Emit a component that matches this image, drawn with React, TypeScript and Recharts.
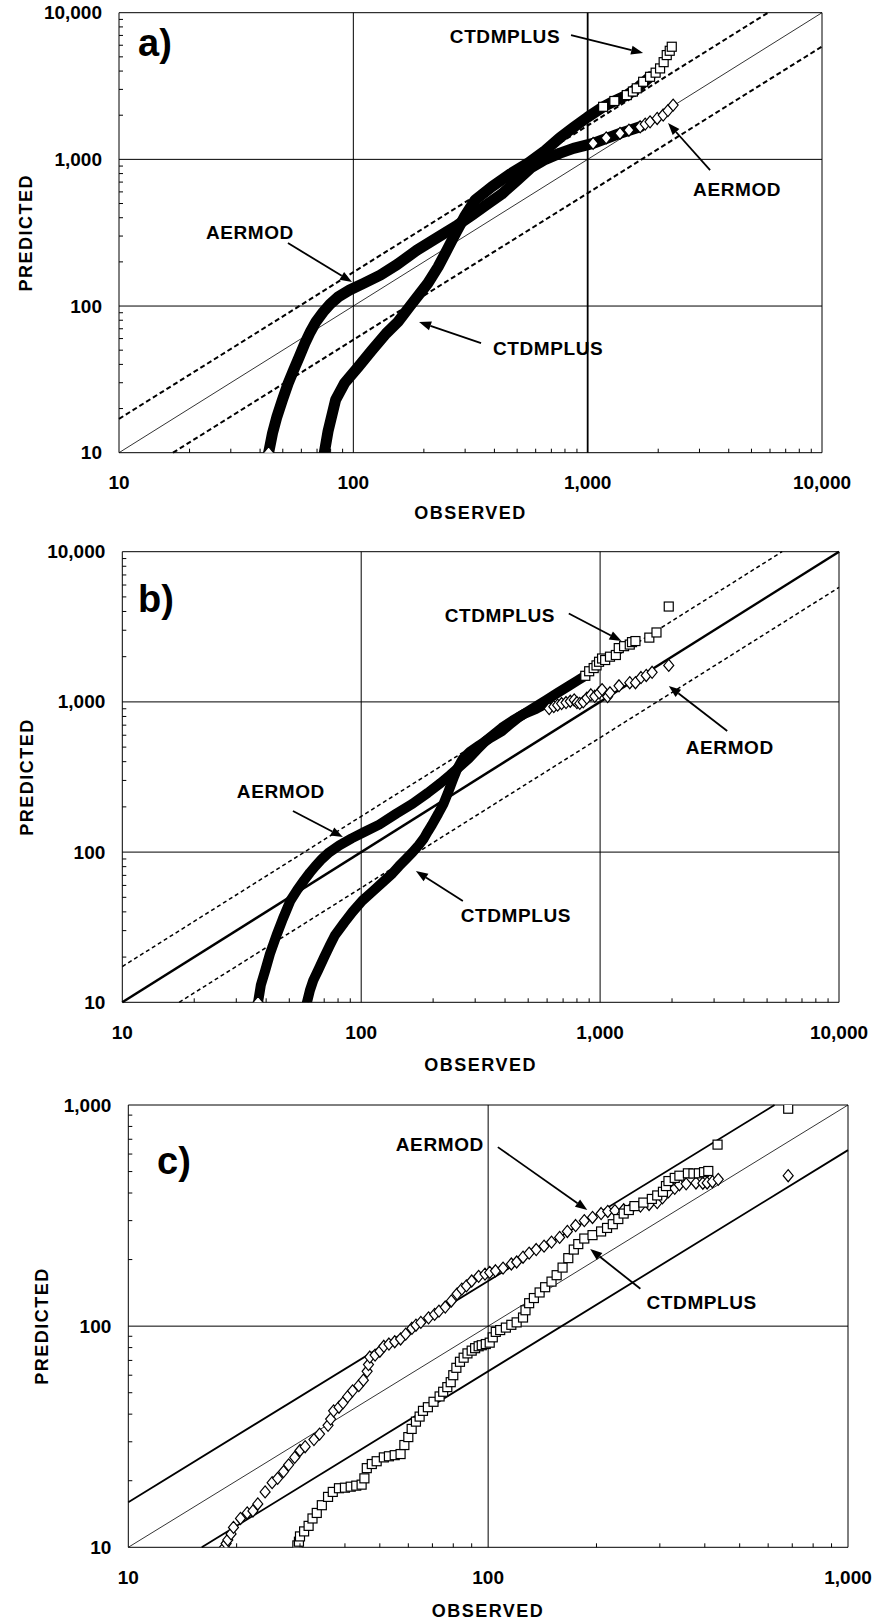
import React from 'react';
import { ScatterChart, Scatter, XAxis, YAxis, ReferenceLine, ReferenceDot, Customized } from 'recharts';

const FONT = '"Liberation Sans", Arial, Helvetica, sans-serif';

// ---------- tick values ----------
const TICKS_4DEC = [10, 20, 30, 40, 50, 60, 70, 80, 90, 100, 200, 300, 400, 500, 600, 700, 800, 900, 1000, 2000, 3000, 4000, 5000, 6000, 7000, 8000, 9000, 10000];
const TICKS_2DEC = [10, 20, 30, 40, 50, 60, 70, 80, 90, 100, 200, 300, 400, 500, 600, 700, 800, 900, 1000];
const MAJOR_TICKS = [10, 100, 1000, 10000];

// ---------- panel a ----------
const aAermodBand = [[43.5, 10], [45.2, 13.6], [47.2, 17.6], [49.8, 22.9], [52.7, 29.7], [55.6, 36.6], [58.8, 45.1], [62.1, 55.7], [65.6, 66.8], [69.3, 78.2], [74.5, 91.4], [79.6, 103.2], [86.4, 115.7], [96.4, 128.5], [110.6, 142.8], [130.3, 162.6], [153.8, 192], [186.5, 240], [225.8, 290], [273.8, 350], [322.8, 420], [370, 490], [430, 580], [500, 720], [575, 880], [660, 1000], [762, 1102], [869, 1189], [1055, 1285], [1374, 1504], [1675, 1668]];
const aAermodTail = [[43.5, 10], [1055, 1285], [1200, 1400], [1374, 1504], [1500, 1580], [1675, 1668], [1760, 1740], [1846, 1803], [1980, 1900], [2100, 2005], [2200, 2150], [2316, 2345]];
const aCtdBand = [[75.2, 10], [78, 14], [84, 22.9], [92, 30], [105, 38.5], [120, 50], [138, 65], [155, 78], [176, 101.6], [208, 143], [230, 185], [251, 241], [275, 320], [298, 406], [331, 528], [390, 650], [470, 800], [560, 950], [660, 1150], [762, 1408], [870, 1650], [1000, 1940], [1164, 2282], [1300, 2500], [1469, 2743], [1620, 3050], [1846, 3655]];
const aCtdTail = [[1164, 2282], [1300, 2500], [1469, 2743], [1560, 2900], [1620, 3050], [1725, 3381], [1846, 3655], [1950, 3900], [2037, 4170], [2110, 4600], [2175, 5140], [2240, 5500], [2285, 5860]];

// ---------- panel b ----------
const bAermodBand = [[37, 10], [38, 13], [39.7, 16.4], [41.5, 21], [44.2, 27.9], [47, 36], [50.5, 47.4], [54, 56], [57.8, 65.2], [61, 73], [64.3, 80.7], [68.5, 90], [73.5, 99.7], [81, 111], [91.2, 123.4], [104, 137], [119, 152.4], [140, 180], [164, 209.7], [190, 248], [215, 288.5], [235, 325], [251, 356.5], [281, 418], [305, 480], [330, 545], [360, 610], [388, 673], [430, 750], [481, 833], [540, 900], [596, 977]];
const bAermodTail = [[37, 10], [612, 903], [640, 930], [664, 951], [690, 975], [720, 990], [750, 1010], [779, 1030], [800, 990], [822, 977], [850, 1000], [880, 1060], [915, 1115], [950, 1090], [990, 1150], [1019, 1208], [1075, 1086], [1100, 1150], [1200, 1280], [1331, 1342], [1406, 1342], [1483, 1453], [1560, 1500], [1651, 1574], [1938, 1750]];
const bCtdBand = [[59.3, 10], [61, 12], [63, 14], [66.1, 16.4], [70, 20], [74, 24], [77.6, 27.9], [85, 34], [92, 40], [101, 47.4], [112, 55], [126, 65.2], [135, 72], [144, 80.7], [154, 90], [164, 99.7], [174, 111], [183, 123.4], [190, 137], [198, 152.4], [210, 180], [221, 209.7], [230, 245], [239, 288.5], [245, 320], [252, 356.5], [266, 418], [285, 465], [313, 516], [350, 580], [388, 639], [420, 710], [456, 790], [520, 900], [596, 1030], [660, 1140], [739, 1274], [800, 1380], [867, 1492]];
const bCtdTail = [[867, 1492], [900, 1600], [940, 1680], [966, 1750], [990, 1850], [1019, 1945], [1050, 1900], [1100, 2000], [1164, 2052], [1197, 2281], [1260, 2350], [1331, 2408], [1360, 2500], [1406, 2541], [1607, 2679], [1722, 2899], [1938, 4315]];

// ---------- panel c ----------
const cAermod = [[18.5, 10], [18.7, 10.4], [18.9, 10.8], [19.3, 11.5], [19.6, 12.3], [20.5, 13.5], [21.4, 14.3], [22.2, 14.6], [22.9, 15.7], [24, 17.8], [25.1, 19.6], [26, 20.5], [27, 22], [27.9, 23.6], [29, 25.5], [30, 27.4], [31, 28.5], [32.8, 30.7], [34, 32.5], [35.9, 35.6], [36.5, 38], [37.2, 41.4], [38.5, 43], [39.5, 45], [40.7, 48], [42, 51], [43.7, 53.8], [45, 57], [46.1, 62.5], [46.5, 67], [46.9, 72.5], [48.5, 74], [50, 77], [51.3, 81.1], [53, 83], [55, 85], [57.1, 87.5], [59, 92], [61.4, 97.8], [63, 101], [65, 104], [68.3, 109], [71, 113], [73, 117], [76, 122], [79, 130], [82, 140], [84.5, 147], [87, 152], [90, 160], [94.1, 168], [98, 172], [101, 175], [104.8, 178], [110, 183], [116, 191], [120, 195], [125, 205], [130, 214], [136, 222], [143, 230], [150, 240], [158, 252], [166, 268], [175, 285], [185, 300], [195, 310], [206, 323], [215, 330], [225, 333], [238, 336], [250, 342], [265, 349], [280, 355], [295, 362], [305, 380], [317, 405], [330, 420], [340, 436], [355, 440], [378, 444], [395, 443], [406, 444], [420, 450], [436, 461], [682, 479]];
const cCtd = [[29.5, 10.2], [29.8, 10.6], [30, 11.2], [30.8, 11.8], [31.7, 12.5], [32.5, 13.5], [33.4, 14.3], [34.5, 15.5], [35.9, 16.9], [37, 17.8], [38.5, 18.5], [40, 18.6], [41.5, 18.8], [43, 19], [44.5, 19.2], [45.3, 20.5], [46, 22.8], [47.5, 23.8], [49, 24.5], [51.3, 25.5], [53, 25.8], [55, 26.1], [57.1, 26.4], [58.5, 29], [60, 31.5], [61.3, 34.3], [63, 37], [64.5, 39], [65.9, 41.4], [68, 43], [70.5, 45.5], [73.3, 48.1], [75, 50.5], [77, 53], [78.7, 55.8], [80, 60], [81.6, 64.8], [83.5, 69], [85.5, 72], [87.6, 75.3], [90, 77.5], [92, 79.5], [94.1, 81.1], [96, 82], [98.5, 83], [101, 84.2], [103, 89], [105, 94.2], [108, 96], [112, 98.5], [116, 101.4], [120, 104], [125, 109.4], [127, 118], [130, 127], [134, 134], [139, 142], [144, 150], [150, 159], [155, 170], [161, 184], [167, 203], [173, 222], [178, 235], [185, 249], [195, 258], [206, 268], [214, 278], [222, 289], [230, 305], [238, 323], [246, 335], [255, 349], [270, 362], [285, 376], [295, 390], [306, 405], [312, 430], [317, 453], [330, 468], [340, 479], [359, 491], [372, 490], [385, 491], [398, 497], [409, 503], [434, 662], [682, 962]];

// ---------- annotations (data coordinates) ----------
const aTexts = [{ t: 'CTDMPLUS', x: 444, y: 6926 }, { t: 'AERMOD', x: 4342, y: 627.6 }, { t: 'AERMOD', x: 36.2, y: 319.5 }, { t: 'CTDMPLUS', x: 677.6, y: 51.7 }];
const aArrows = [[[849, 7034], [1724, 5303]], [[3330, 845], [2203, 1768]], [[52.6, 268.9], [98.7, 145.7]], [[350.8, 55.9], [190.8, 77.8]]];
const bTexts = [{ t: 'CTDMPLUS', x: 380.4, y: 3732 }, { t: 'AERMOD', x: 3489, y: 493.3 }, { t: 'AERMOD', x: 46.1, y: 251.3 }, { t: 'CTDMPLUS', x: 444, y: 38.1 }];
const bArrows = [[[739.6, 3878], [1229, 2544]], [[3405, 640], [1939, 1276]], [[51.8, 187.7], [83.8, 126]], [[266.4, 47.3], [169.4, 74.8]]];
const cTexts = [{ t: 'AERMOD', x: 73.4, y: 665.8 }, { t: 'CTDMPLUS', x: 392.2, y: 128.5 }];
const cArrows = [[[106.4, 645], [188.6, 334.9]], [[264.9, 147.5], [192.1, 223.1]]];

const toPts = (arr: number[][]) => arr.map(([x, y]) => ({ x, y }));
const fmt = (v: number) => v.toLocaleString('en-US');

const XTick = (p: any) => {
  const { x, y, payload, labelDy } = p;
  const v = payload.value;
  const major = MAJOR_TICKS.includes(v);
  return (
    <g>
      {!major && <line x1={x} x2={x} y1={y} y2={y - 4} stroke="#000" strokeWidth={1} />}
      {major && (
        <text x={x} y={y + labelDy} textAnchor="middle" dominantBaseline="central" fontFamily={FONT} fontWeight="bold" fontSize={19} fill="#000">
          {fmt(v)}
        </text>
      )}
    </g>
  );
};

const YTick = (p: any) => {
  const { x, y, payload, labelDx } = p;
  const v = payload.value;
  const major = MAJOR_TICKS.includes(v);
  return (
    <g>
      {!major && <line x1={x} x2={x + 4} y1={y} y2={y} stroke="#000" strokeWidth={1} />}
      {major && (
        <text x={x - labelDx} y={y} textAnchor="end" dominantBaseline="central" fontFamily={FONT} fontWeight="bold" fontSize={19} fill="#000">
          {fmt(v)}
        </text>
      )}
    </g>
  );
};

const SquareMk = (p: any) => (
  <rect x={p.cx - 4.5} y={p.cy - 4.5} width={9} height={9} fill="#fff" stroke="#000" strokeWidth={1.2} />
);
const DiamondMk = (p: any) => (
  <polygon points={`${p.cx},${p.cy - 6} ${p.cx + 5},${p.cy} ${p.cx},${p.cy + 6} ${p.cx - 5},${p.cy}`} fill="#fff" stroke="#000" strokeWidth={1.2} />
);
const NoMk = () => <g />;

const ArrowShape = (p: any) => {
  const { x1, y1, x2, y2 } = p;
  const ang = Math.atan2(y2 - y1, x2 - x1);
  const L = 12;
  const W = 4.5;
  const bx = x2 - L * Math.cos(ang);
  const by = y2 - L * Math.sin(ang);
  const p1x = bx + W * Math.sin(ang);
  const p1y = by - W * Math.cos(ang);
  const p2x = bx - W * Math.sin(ang);
  const p2y = by + W * Math.cos(ang);
  return (
    <g>
      <line x1={x1} y1={y1} x2={bx} y2={by} stroke="#000" strokeWidth={1.8} />
      <polygon points={`${x2},${y2} ${p1x},${p1y} ${p2x},${p2y}`} fill="#000" />
    </g>
  );
};

const textShape = (t: string) => (p: any) => (
  <text x={p.cx} y={p.cy} textAnchor="middle" dominantBaseline="central" fontFamily={FONT} fontWeight="bold" fontSize={19} letterSpacing={0.6} fill="#000">
    {t}
  </text>
);

const Overlay = (p: any) => {
  const { letter, lx, ly, xt, yt } = p;
  return (
    <g>
      <text x={lx} y={ly} fontFamily={FONT} fontWeight="bold" fontSize={38} fill="#000">{letter}</text>
      <text x={xt[0]} y={xt[1]} textAnchor="middle" dominantBaseline="central" fontFamily={FONT} fontWeight="bold" fontSize={18} letterSpacing={1.5} fill="#000">OBSERVED</text>
      <text x={yt[0]} y={yt[1]} textAnchor="middle" dominantBaseline="central" fontFamily={FONT} fontWeight="bold" fontSize={18} letterSpacing={1.5} fill="#000" transform={`rotate(-90 ${yt[0]} ${yt[1]})`}>PREDICTED</text>
    </g>
  );
};

type PanelProps = {
  top: number;
  height: number;
  margin: { top: number; right: number; bottom: number; left: number };
  yW: number;
  xH: number;
  max: number;
  ticks: number[];
  factor: number;
  diag: any;
  fac: any;
  grid: { x: number; w: number }[];
  gridY: number[];
  series: { data: number[][]; kind: 'band' | 'sq' | 'di'; width?: number }[];
  texts: { t: string; x: number; y: number }[];
  arrows: number[][][];
  letter: string;
  lx: number;
  ly: number;
  xt: number[];
  yt: number[];
};

function Panel(props: PanelProps) {
  const { top, height, margin, yW, xH, max, ticks, factor, diag, fac, grid, gridY, series, texts, arrows, letter, lx, ly, xt, yt } = props;
  const lo = 10;
  return (
    <div style={{ position: 'absolute', left: 0, top, width: 874, height }}>
      <ScatterChart width={874} height={height} margin={margin}>
        <XAxis type="number" dataKey="x" scale="log" domain={[lo, max]} allowDataOverflow ticks={ticks} interval={0} tickSize={0} tickMargin={0} tickLine={false} axisLine={{ stroke: '#000', strokeWidth: 1 }} height={xH} tick={<XTick labelDy={30} />} />
        <YAxis type="number" dataKey="y" scale="log" domain={[lo, max]} allowDataOverflow ticks={ticks} interval={0} tickSize={0} tickMargin={0} tickLine={false} axisLine={{ stroke: '#000', strokeWidth: 1 }} width={yW} tick={<YTick labelDx={17} />} />
        {grid.map((g, i) => (
          <ReferenceLine key={'gx' + i} x={g.x} stroke="#000" strokeWidth={g.w} />
        ))}
        {gridY.map((g, i) => (
          <ReferenceLine key={'gy' + i} y={g} stroke="#000" strokeWidth={1} />
        ))}
        <ReferenceLine x={max} stroke="#000" strokeWidth={1} />
        <ReferenceLine y={max} stroke="#000" strokeWidth={1} />
        <ReferenceLine segment={[{ x: lo, y: lo }, { x: max, y: max }]} {...diag} />
        <ReferenceLine segment={[{ x: lo, y: lo * factor }, { x: max / factor, y: max }]} {...fac} />
        <ReferenceLine segment={[{ x: lo * factor, y: lo }, { x: max, y: max / factor }]} {...fac} />
        {series.map((s, i) => (
          <Scatter
            key={'s' + i}
            data={toPts(s.data)}
            isAnimationActive={false}
            line={s.kind === 'band' ? { stroke: '#000', strokeWidth: s.width || 10, strokeLinejoin: 'round', strokeLinecap: 'round' } : false}
            shape={s.kind === 'band' ? NoMk : s.kind === 'sq' ? SquareMk : DiamondMk}
          />
        ))}
        {arrows.map((a, i) => (
          <ReferenceLine key={'ar' + i} segment={[{ x: a[0][0], y: a[0][1] }, { x: a[1][0], y: a[1][1] }]} shape={ArrowShape} />
        ))}
        {texts.map((t, i) => (
          <ReferenceDot key={'tx' + i} x={t.x} y={t.y} r={0} shape={textShape(t.t)} />
        ))}
        <Customized component={<Overlay letter={letter} lx={lx} ly={ly} xt={xt} yt={yt} />} />
      </ScatterChart>
    </div>
  );
}

export default function App() {
  return (
    <div style={{ position: 'absolute', left: 0, top: 0, width: 874, height: 1622, background: '#fff' }}>
      <Panel
        top={0}
        height={540}
        margin={{ top: 12.7, right: 52, bottom: 7.3, left: 0 }}
        yW={119}
        xH={80}
        max={10000}
        ticks={TICKS_4DEC}
        factor={1.7}
        diag={{ stroke: '#000', strokeWidth: 0.8 }}
        fac={{ stroke: '#000', strokeWidth: 2, strokeDasharray: '5 3' }}
        grid={[{ x: 100, w: 1 }, { x: 1000, w: 1.8 }]}
        gridY={[100, 1000]}
        series={[
          { data: aAermodBand, kind: 'band', width: 11 },
          { data: aCtdBand, kind: 'band', width: 11 },
          { data: aAermodTail, kind: 'di' },
          { data: aCtdTail, kind: 'sq' },
        ]}
        texts={aTexts}
        arrows={aArrows}
        letter="a)"
        lx={138}
        ly={56}
        xt={[470.5, 513]}
        yt={[26, 232.7]}
      />
      <Panel
        top={520}
        height={560}
        margin={{ top: 31.7, right: 35, bottom: 7.7, left: 0 }}
        yW={122.3}
        xH={70}
        max={10000}
        ticks={TICKS_4DEC}
        factor={1.73}
        diag={{ stroke: '#000', strokeWidth: 2.5 }}
        fac={{ stroke: '#000', strokeWidth: 1.5, strokeDasharray: '4 3' }}
        grid={[{ x: 100, w: 1 }, { x: 1000, w: 1 }]}
        gridY={[100, 1000]}
        series={[
          { data: bAermodBand, kind: 'band', width: 10 },
          { data: bCtdBand, kind: 'band', width: 10 },
          { data: bAermodTail, kind: 'di' },
          { data: bCtdTail, kind: 'sq' },
        ]}
        texts={bTexts}
        arrows={bArrows}
        letter="b)"
        lx={138}
        ly={91.5}
        xt={[480.7, 545]}
        yt={[27, 257]}
      />
      <Panel
        top={1080}
        height={542}
        margin={{ top: 25, right: 26, bottom: 4.7, left: 0 }}
        yW={128.3}
        xH={70}
        max={1000}
        ticks={TICKS_2DEC}
        factor={1.6}
        diag={{ stroke: '#000', strokeWidth: 0.8 }}
        fac={{ stroke: '#000', strokeWidth: 1.8 }}
        grid={[{ x: 100, w: 1 }]}
        gridY={[100]}
        series={[
          { data: cAermod, kind: 'di' },
          { data: cCtd, kind: 'sq' },
        ]}
        texts={cTexts}
        arrows={cArrows}
        letter="c)"
        lx={157}
        ly={94}
        xt={[488, 531]}
        yt={[42, 246]}
      />
    </div>
  );
}
